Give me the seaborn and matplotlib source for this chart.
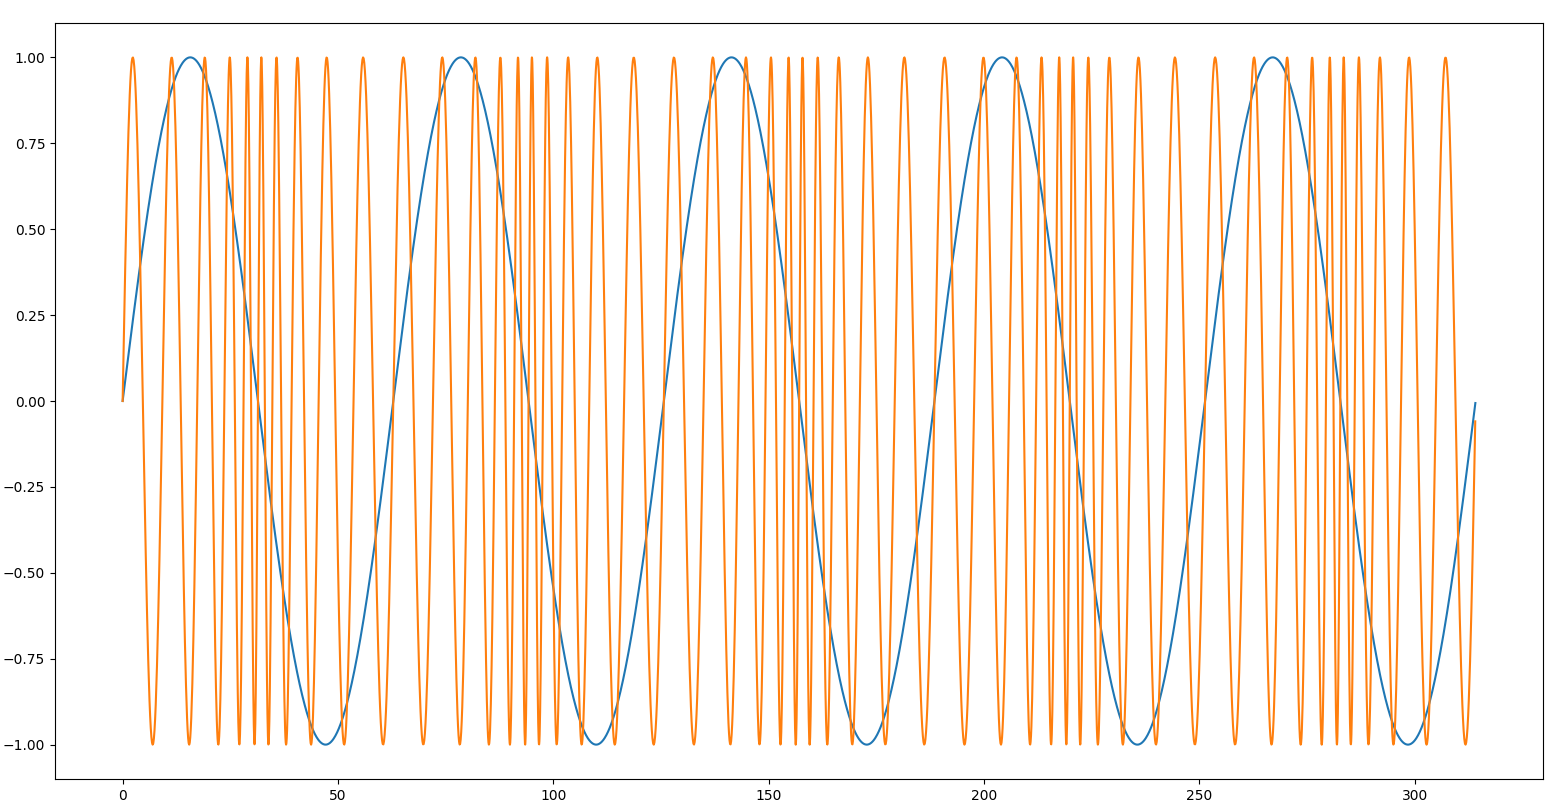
import numpy as np
import pandas as pd
import matplotlib
matplotlib.use("Agg")
import matplotlib.pyplot as plt
import seaborn as sns

# Sample grid: 0 .. 314.1 in steps of 0.1 (last point ~314.1)
x_start = 0.0
x_stop = 100 * np.pi
x_step = 0.1

# Blue: slow sine with period ~62.8 (peaks at ~15.7, 78.5, 141, 204, 267)
blue_period_scale = 10.0
# Orange: fast sine (one cycle per 2*pi of the grid), drawn on a time axis
# shifted by 5 x blue (dense near 31, 94, 157, 220, 283; sparse near 0, 63, 126 ...)
orange_shift_gain = 5.0

x = np.arange(x_start, x_stop, x_step)
blue = np.sin(x / blue_period_scale)
orange_x = x + orange_shift_gain * blue
orange = np.sin(x)

df_blue = pd.DataFrame({"x": x, "y": blue})
df_orange = pd.DataFrame({"x": orange_x, "y": orange})

fig = plt.figure(figsize=(15.64, 8.11), dpi=100)
ax = fig.add_axes([55 / 1564, 32 / 811, (1543 - 55) / 1564, (779 - 23) / 811])

sns.lineplot(data=df_blue, x="x", y="y", ax=ax, color="#1f77b4",
             linewidth=1.5, sort=False, estimator=None)
sns.lineplot(data=df_orange, x="x", y="y", ax=ax, color="#ff7f0e",
             linewidth=1.5, sort=False, estimator=None)

ax.set_xlabel("")
ax.set_ylabel("")

fig.savefig("out.png", dpi=100)
